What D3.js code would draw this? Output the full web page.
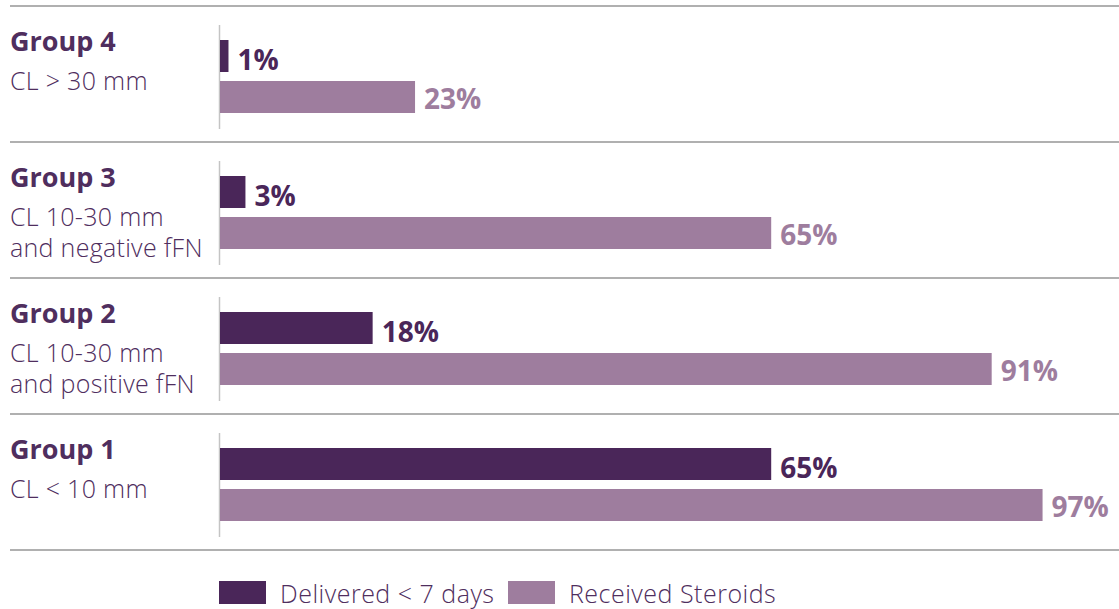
<!DOCTYPE html>
<html>
<head>
<meta charset="utf-8">
<script src="https://cdn.jsdelivr.net/npm/d3@7"></script>
<style>
  body { margin: 0; background: #fff; }
  svg { font-family: "Open Sans", sans-serif; }
</style>
</head>
<body>
<div id="chart"></div>
<script>
// data, top to bottom as drawn
const groups = ["Group 4", "Group 3", "Group 2", "Group 1"];
const subtitles = [
    ["CL > 30 mm"],
    ["CL 10-30 mm", "and negative fFN"],
    ["CL 10-30 mm", "and positive fFN"],
    ["CL < 10 mm"]
];
const delivered = [1, 3, 18, 65];
const steroids = [23, 65, 91, 97];
const seriesNames = ["Delivered < 7 days", "Received Steroids"];

const svgWidth = 1119, svgHeight = 609;
const darkColor = "#4a2659", lightColor = "#9e7d9e";
const textColor = "#4f2e5e";

var svg = d3.select("#chart")
    .append("svg")
    .attr("width", svgWidth)
    .attr("height", svgHeight);

// bar length scale
var x = d3.scaleLinear().domain([0, 100]).range([220, 1068]);
// band for each group
var band = d3.scaleBand().domain(groups).range([6, 550]);

// separator lines
svg.selectAll(".sep")
    .data(d3.range(groups.length + 1))
    .join("line")
    .attr("x1", 10).attr("x2", svgWidth)
    .attr("y1", i => 6 + i * band.bandwidth())
    .attr("y2", i => 6 + i * band.bandwidth())
    .attr("stroke", "#b0b0b0")
    .attr("stroke-width", 2);

var g = svg.selectAll(".grp")
    .data(groups)
    .join("g")
    .attr("class", "grp")
    .attr("transform", d => `translate(0, ${band(d)})`);

// axis line
g.append("line")
    .attr("x1", 219.5).attr("x2", 219.5)
    .attr("y1", 19).attr("y2", 123)
    .attr("stroke", "#c4c4c4")
    .attr("stroke-width", 1.5);

// group titles
g.append("text")
    .text(d => d)
    .attr("x", 10).attr("y", 45)
    .attr("fill", textColor)
    .style("font-size", "27px")
    .style("font-weight", "bold");

g.each(function(d, i) {
    d3.select(this).selectAll(".sub")
        .data(subtitles[i])
        .join("text")
        .text(s => s)
        .attr("x", 10)
        .attr("y", (s, j) => 84 + j * 31)
        .attr("fill", textColor)
        .style("font-size", "25px")
        .style("letter-spacing", "0.3px")
        .style("font-weight", 300);
});

// bars
g.append("rect")
    .attr("x", x(0))
    .attr("y", 34)
    .attr("width", (d, i) => x(delivered[i]) - x(0))
    .attr("height", 32)
    .attr("fill", darkColor);

g.append("rect")
    .attr("x", x(0))
    .attr("y", 75)
    .attr("width", (d, i) => x(steroids[i]) - x(0))
    .attr("height", 32)
    .attr("fill", lightColor);

// value labels
g.append("text")
    .text((d, i) => `${delivered[i]}%`)
    .attr("x", (d, i) => x(delivered[i]) + 9)
    .attr("y", 64)
    .attr("fill", darkColor)
    .style("font-size", "28px")
    .style("font-weight", "bold");

g.append("text")
    .text((d, i) => `${steroids[i]}%`)
    .attr("x", (d, i) => x(steroids[i]) + 9)
    .attr("y", 103)
    .attr("fill", lightColor)
    .style("font-size", "28px")
    .style("font-weight", "bold");

// legend
var legendX = [219, 508];
var legend = svg.selectAll(".legend")
    .data(seriesNames)
    .join("g")
    .attr("class", "legend")
    .attr("transform", (d, i) => `translate(${legendX[i]}, 581)`);

legend.append("rect")
    .attr("width", 47)
    .attr("height", 23)
    .attr("fill", (d, i) => i == 0 ? darkColor : lightColor);

legend.append("text")
    .text(d => d)
    .attr("x", 61)
    .attr("y", 22)
    .attr("fill", textColor)
    .style("font-size", "25px")
    .style("letter-spacing", "0.5px")
    .style("font-weight", 300);
</script>
</body>
</html>
